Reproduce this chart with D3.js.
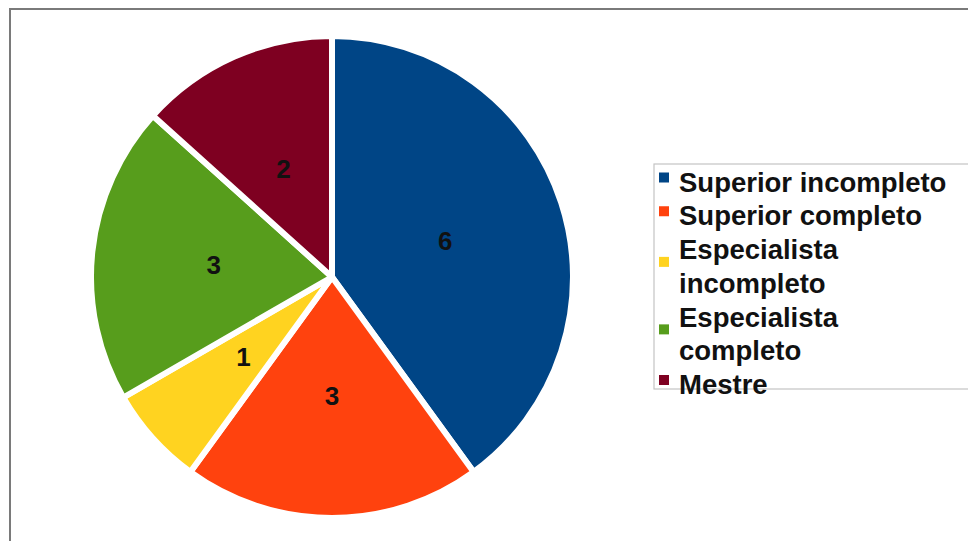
<!DOCTYPE html>
<html>
<head>
<meta charset="utf-8">
<script src="https://cdn.jsdelivr.net/npm/d3@7"></script>
<style>
  html, body { margin: 0; padding: 0; background: #fff; }
  svg { display: block; }
  text { font-family: "Liberation Sans", Arial, sans-serif; font-weight: bold; }
</style>
</head>
<body>
<svg id="chart" width="968" height="541"></svg>
<script>
// Education level counts
const categories = ["Superior incompleto", "Superior completo", "Especialista incompleto", "Especialista completo", "Mestre"];
const counts = [6, 3, 1, 3, 2];
const colors = ["#004586", "#ff420e", "#ffd320", "#579d1c", "#7e0021"];

const width = 968, height = 541;
const svg = d3.select("#chart");

// outer frame (right and bottom edges run off the page)
svg.append("rect")
  .attr("x", 10).attr("y", 9)
  .attr("width", 1000).attr("height", 600)
  .attr("fill", "#fff")
  .attr("stroke", "#7a7a7a")
  .attr("stroke-width", 2);

// pie
const cx = 332, cy = 277, R = 241;
const pie = d3.pie().sort(null).value(d => d.value);
const arcs = pie(categories.map((c, i) => ({ name: c, value: counts[i], color: colors[i] })));
const arc = d3.arc().innerRadius(0).outerRadius(R);
const labelArc = d3.arc().innerRadius(0).outerRadius(R - 3);

const g = svg.append("g").attr("transform", `translate(${cx},${cy})`);
g.selectAll("path.slice")
  .data(arcs)
  .join("path")
  .attr("class", "slice")
  .attr("d", arc)
  .attr("fill", d => d.data.color)
  .attr("stroke", "#fff")
  .attr("stroke-width", 6)
  .attr("stroke-linejoin", "round");

g.selectAll("text.value")
  .data(arcs)
  .join("text")
  .attr("class", "value")
  .attr("transform", d => `translate(${labelArc.centroid(d)})`)
  .attr("text-anchor", "middle")
  .attr("dy", "0.36em")
  .attr("font-size", 26)
  .attr("fill", "#111")
  .text(d => d.data.value);

// legend
const legend = svg.append("g");
legend.append("rect")
  .attr("x", 654).attr("y", 164)
  .attr("width", 400).attr("height", 225)
  .attr("fill", "#fff")
  .attr("stroke", "#c4c4c4")
  .attr("stroke-width", 1.2);

const textX = 679, firstBaseline = 191.5, lineStep = 33.75, maxWidth = 275;
let line = 0;
categories.forEach((name, i) => {
  const t = legend.append("text")
    .attr("x", textX)
    .attr("font-size", 27.5)
    .attr("fill", "#111");
  // wrap words into lines that fit the legend width
  const words = name.split(" ");
  const lines = [];
  let cur = "";
  words.forEach(w => {
    const trial = cur ? cur + " " + w : w;
    t.text(trial);
    if (cur && t.node().getComputedTextLength() > maxWidth) {
      lines.push(cur);
      cur = w;
    } else {
      cur = trial;
    }
  });
  lines.push(cur);
  t.text(null);
  const startLine = line;
  lines.forEach((ln, k) => {
    t.append("tspan")
      .attr("x", textX)
      .attr("y", firstBaseline + (line + k) * lineStep)
      .text(ln);
  });
  line += lines.length;
  const b0 = firstBaseline + startLine * lineStep;
  const b1 = firstBaseline + (line - 1) * lineStep;
  const sy = (b0 + b1) / 2 - 14;
  legend.append("rect")
    .attr("x", 659).attr("y", sy - 5)
    .attr("width", 10).attr("height", 10)
    .attr("fill", colors[i]);
});
</script>
</body>
</html>
